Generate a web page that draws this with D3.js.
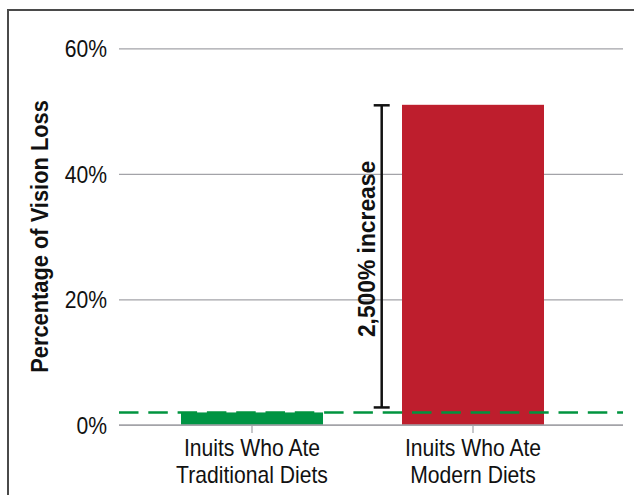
<!DOCTYPE html>
<html>
<head>
<meta charset="utf-8">
<script src="https://cdn.jsdelivr.net/npm/d3@7"></script>
<style>
  html, body { margin: 0; padding: 0; background: #fff; }
  svg { display: block; }
  text { font-family: "Liberation Sans", Arial, Helvetica, sans-serif; fill: #111; }
</style>
</head>
<body>
<svg id="chart" width="634" height="495"></svg>
<script>
// Vision loss among Inuit groups by diet
const categories = ["Traditional", "Modern"];
const categoryLines = [
  ["Inuits Who Ate", "Traditional Diets"],
  ["Inuits Who Ate", "Modern Diets"]
];
const visionLoss = [2, 51];          // percent
const barColors = ["#009444", "#be1e2d"];
const yTicks = [0, 20, 40, 60];
const yTitle = "Percentage of Vision Loss";
const increaseLabel = "2,500% increase";

const svg = d3.select("#chart");

// outer frame
svg.append("rect")
  .attr("x", 8).attr("y", 10)
  .attr("width", 720).attr("height", 600)
  .attr("fill", "none").attr("stroke", "#4a4a4a").attr("stroke-width", 2);

const plotLeft = 119, plotRight = 623;

const y = d3.scaleLinear().domain([0, 60]).range([425, 48.3]);
const x = d3.scaleBand()
  .domain(categories)
  .range([110.5, 614.5])
  .paddingInner(0.3575)
  .paddingOuter(0.319);

// helper: narrow the rendered glyphs to mimic a condensed face
function condense(sel, k) {
  sel.each(function () {
    const w = this.getComputedTextLength();
    d3.select(this).attr("textLength", w * k).attr("lengthAdjust", "spacingAndGlyphs");
  });
}

// y axis: gridlines and labels
const yAxis = d3.axisLeft(y)
  .tickValues(yTicks)
  .tickSize(-(plotRight - plotLeft))
  .tickPadding(12)
  .tickFormat(d => d + "%");

const gy = svg.append("g")
  .attr("transform", `translate(${plotLeft},0)`)
  .call(yAxis);
gy.select(".domain").remove();
gy.selectAll(".tick line")
  .attr("stroke", "#a3a3a8").attr("stroke-width", 1.2);
gy.selectAll(".tick text")
  .attr("font-size", 24)
  .attr("fill", "#111")
  .attr("dy", "0.35em")
  .call(condense, 0.88);

// bars
svg.append("g").selectAll("rect")
  .data(categories)
  .join("rect")
  .attr("x", d => x(d))
  .attr("width", x.bandwidth())
  .attr("y", (d, i) => y(visionLoss[i]))
  .attr("height", (d, i) => y(0) - y(visionLoss[i]))
  .attr("fill", (d, i) => barColors[i]);

// x axis: baseline, ticks and two-line labels
const xAxis = d3.axisBottom(x).tickSize(8).tickFormat("");
const gx = svg.append("g")
  .attr("transform", `translate(0,${y(0)})`)
  .call(xAxis);
gx.select(".domain").remove();
gx.selectAll(".tick line").attr("stroke", "#a3a3a8").attr("stroke-width", 1.2);

svg.append("line")
  .attr("x1", plotLeft).attr("x2", plotRight)
  .attr("y1", y(0)).attr("y2", y(0))
  .attr("stroke", "#a3a3a8").attr("stroke-width", 1.5);

const labels = svg.append("g").selectAll("text")
  .data(categories)
  .join("text")
  .attr("text-anchor", "middle")
  .attr("font-size", 24);
labels.each(function (d, i) {
  const t = d3.select(this);
  categoryLines[i].forEach((line, j) => {
    t.append("tspan")
      .attr("x", x(d) + x.bandwidth() / 2)
      .attr("y", 455.7 + j * 27.6)
      .text(line);
  });
});
// condense each line
labels.selectAll("tspan").each(function () {
  const w = this.getComputedTextLength();
  d3.select(this).attr("textLength", w * 0.88).attr("lengthAdjust", "spacingAndGlyphs");
});

// reference line at the traditional-diet level
svg.append("line")
  .attr("x1", plotLeft).attr("x2", plotRight)
  .attr("y1", y(visionLoss[0])).attr("y2", y(visionLoss[0]))
  .attr("stroke", "#00943f")
  .attr("stroke-width", 2.5)
  .attr("stroke-dasharray", "19.5,9.8");

// bracket showing the increase
const bx = 381.7, capHalf = 8;
const bTop = y(visionLoss[1]) + 0.5;
const bBottom = y(visionLoss[0]) - 5;
const bracket = svg.append("g").attr("stroke", "#111").attr("stroke-width", 2.5);
bracket.append("line").attr("x1", bx).attr("x2", bx).attr("y1", bTop).attr("y2", bBottom);
bracket.append("line").attr("x1", bx - capHalf).attr("x2", bx + capHalf).attr("y1", bTop).attr("y2", bTop);
bracket.append("line").attr("x1", bx - capHalf).attr("x2", bx + capHalf).attr("y1", bBottom).attr("y2", bBottom);

svg.append("text")
  .attr("transform", `translate(375,249) rotate(-90)`)
  .attr("text-anchor", "middle")
  .attr("font-size", 24)
  .attr("font-weight", "bold")
  .text(increaseLabel)
  .call(condense, 0.95);

// y axis title
svg.append("text")
  .attr("transform", `translate(48,236.5) rotate(-90)`)
  .attr("text-anchor", "middle")
  .attr("font-size", 24)
  .attr("font-weight", "bold")
  .text(yTitle)
  .call(condense, 0.91);
</script>
</body>
</html>
